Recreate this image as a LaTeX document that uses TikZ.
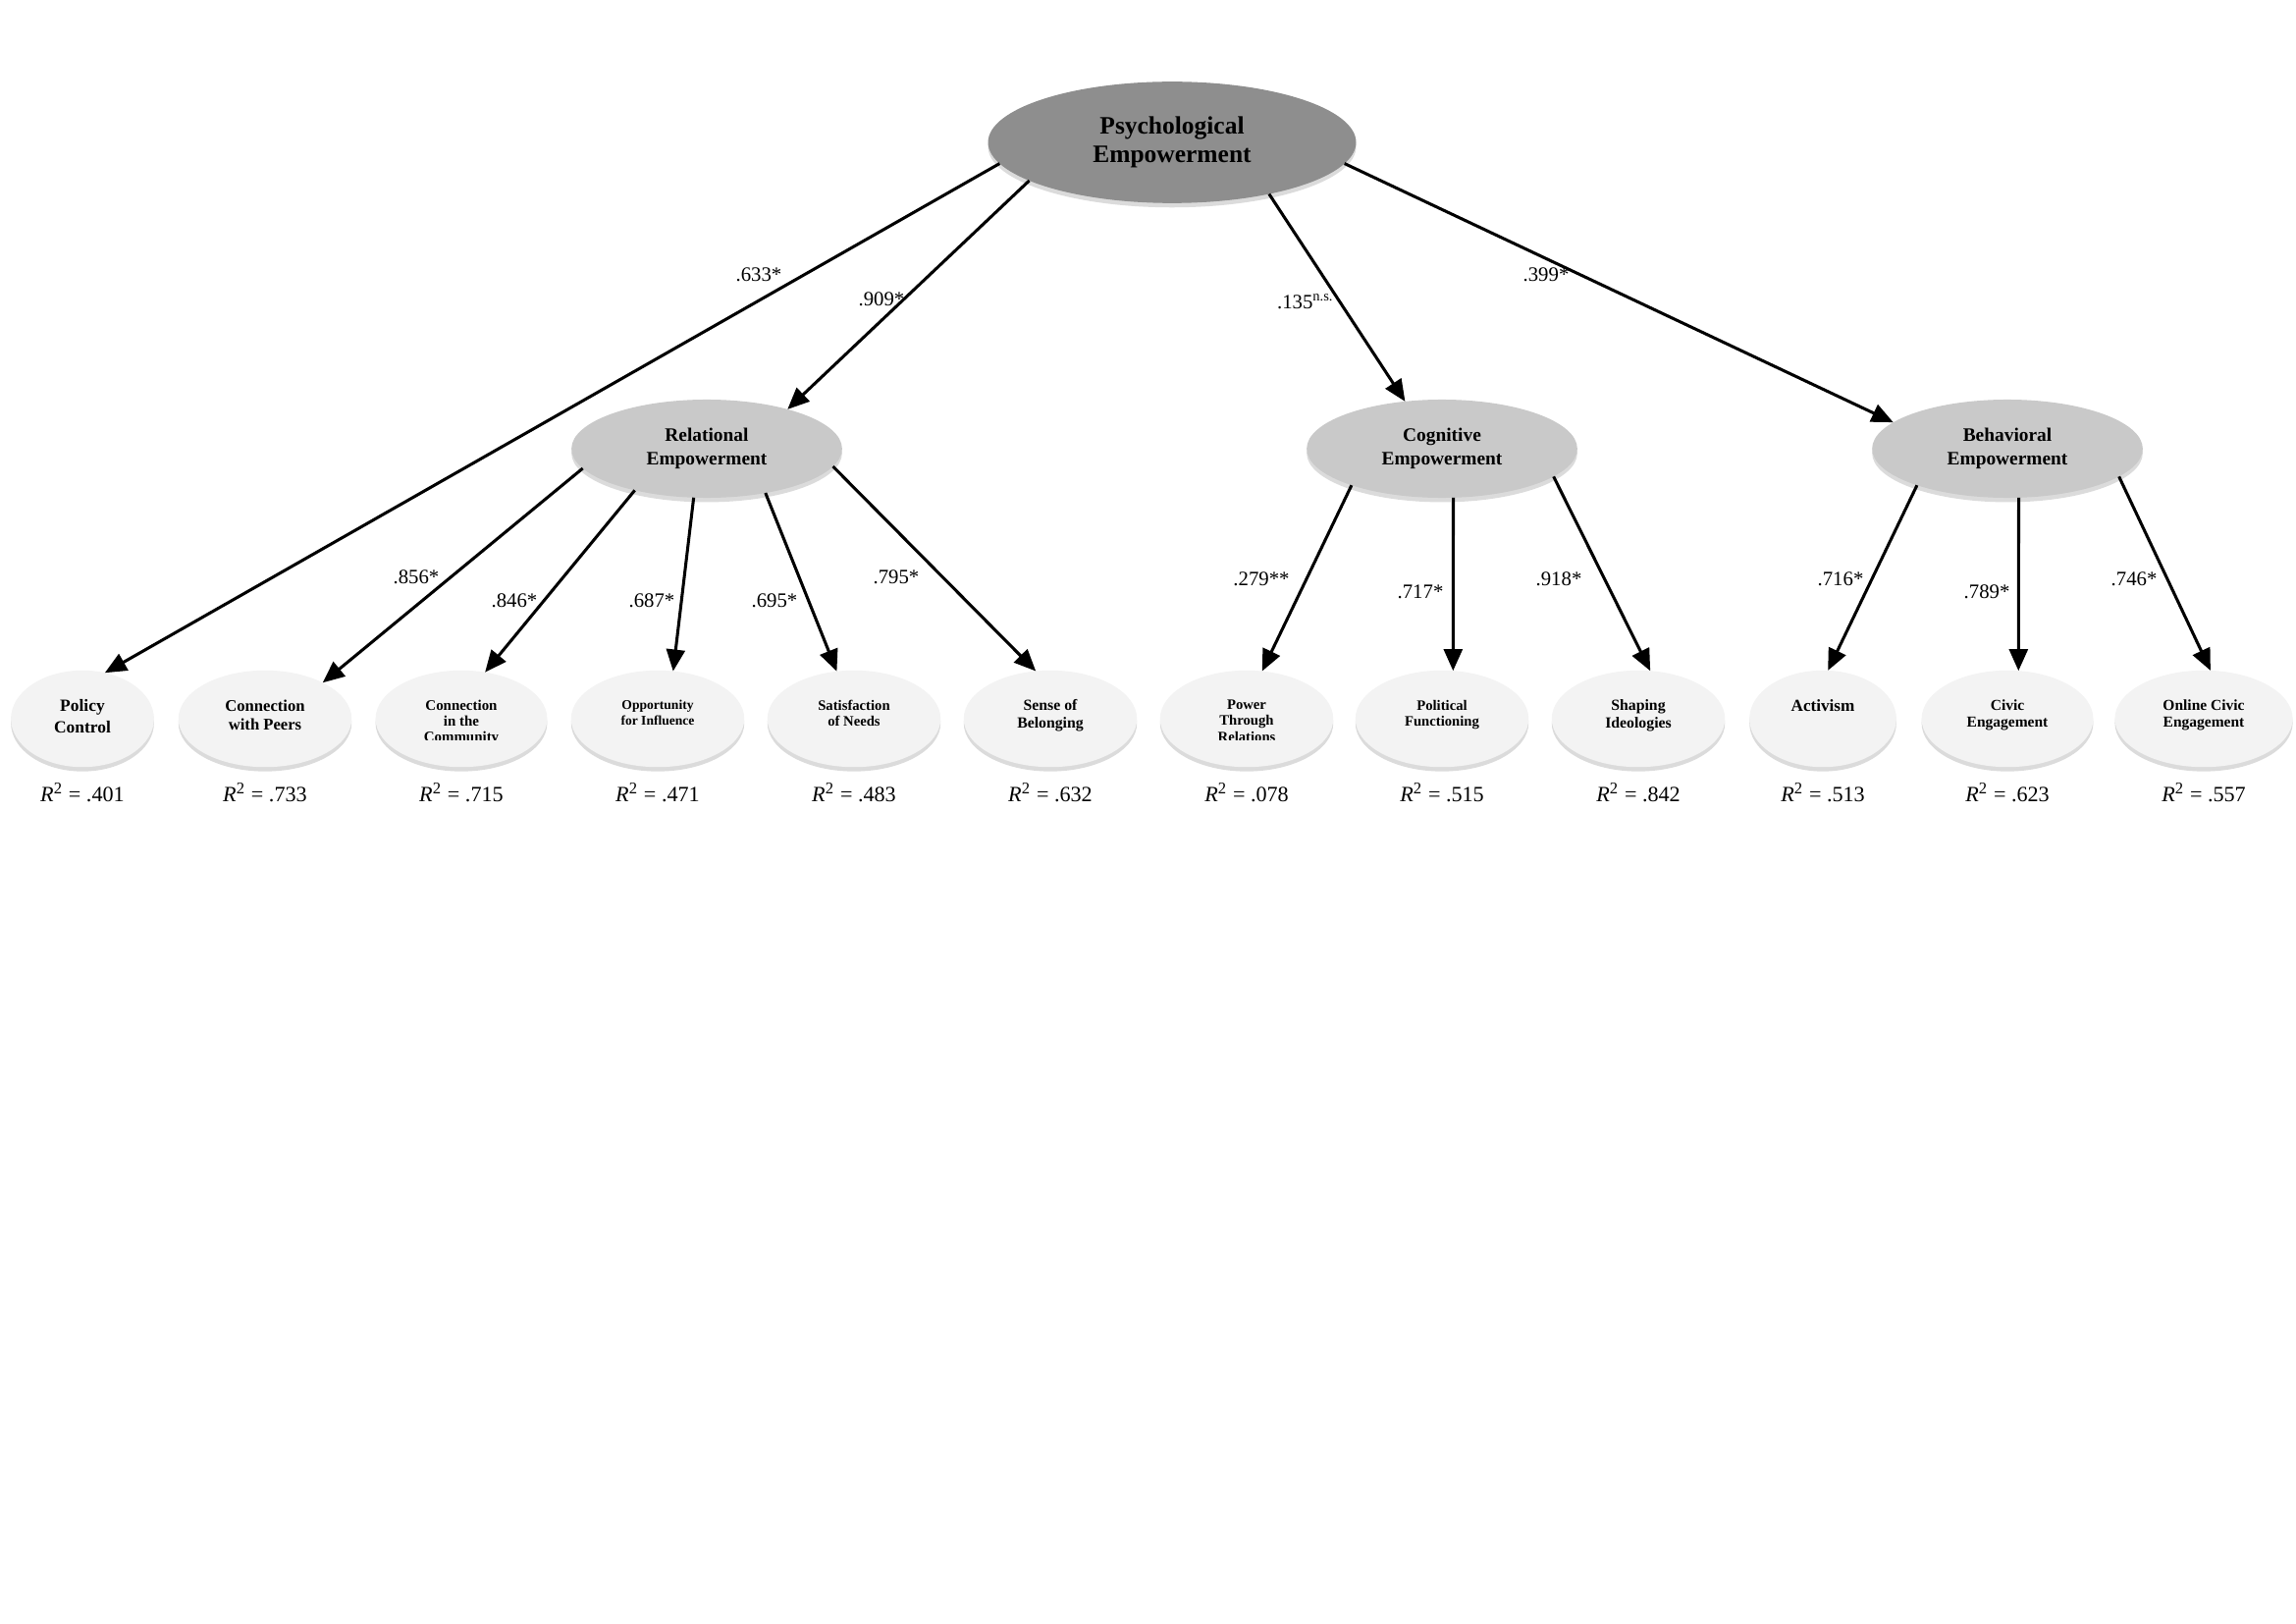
\documentclass[tikz,border=0pt]{standalone}
\usepackage{fontspec}
\setmainfont{Liberation Serif}
\usetikzlibrary{arrows.meta,shapes.geometric,shadows,positioning}

\definecolor{pegray}{RGB}{142,142,142}
\definecolor{facetgray}{RGB}{201,201,201}
\definecolor{indicgray}{RGB}{243,243,243}

\begin{document}
\begin{tikzpicture}[x=0.0127cm, y=-0.0127cm,
  softshadow/.style={drop shadow={shadow xshift=0pt, shadow yshift=-1.6pt, opacity=0.14, fill=black}},
  higher/.style={ellipse, fill=pegray, softshadow, minimum width=4.76cm, minimum height=1.57cm,
    inner sep=0pt, outer sep=0pt, align=center, font=\bfseries\fontsize{9.2}{10.2}\selectfont},
  facet/.style={ellipse, fill=facetgray, softshadow, minimum width=3.5cm, minimum height=1.27cm,
    inner sep=0pt, outer sep=0pt, align=center, font=\bfseries\fontsize{7}{8.6}\selectfont},
  indic/.style={ellipse, fill=indicgray, softshadow, minimum height=1.25cm, inner sep=0pt, outer sep=0pt},
  indictext/.style 2 args={anchor=north, yshift=0.25cm, align=center, inner sep=0pt,
    font=\bfseries\fontsize{#1}{#2}\selectfont},
  load/.style={-{Triangle[length=0.28cm, width=0.24cm]}, line width=1.1pt},
  coef/.style={font=\fontsize{7.5}{9}\selectfont, inner sep=0pt},
  rsq/.style={font=\fontsize{8}{9.6}\selectfont, inner sep=0pt}]

  \useasboundingbox (0,0) rectangle (2339,1653);

  % --- second-order factor and dimensions ---
  \node[higher] (pe) at (1194,145) {Psychological\\Empowerment};
  \node[facet] (rel) at (720,457) {Relational\\Empowerment};
  \node[facet] (cog) at (1469,457) {Cognitive\\Empowerment};
  \node[facet] (beh) at (2045,457) {Behavioral\\Empowerment};

  % --- indicators ---
  \foreach \n/\x/\w in {pc/84/1.85, cp/270/2.24, cc/470/2.22, oi/670/2.24, sn/870/2.24, sb/1070/2.24,
                        pr/1270/2.24, pf/1469/2.24, si/1669/2.24, ac/1857/1.9, ce/2045/2.22, oc/2245/2.3}
    \node[indic, minimum width=\w cm] (\n) at (\x,732) {};

  \node[indictext={6.3}{7.6}] (pc-t) at (pc.center) {Policy\\Control};
  \node[indictext={6}{7}] (cp-t) at (cp.center) {Connection\\with Peers};
  \begin{scope}
    \clip (380,690) rectangle (560,753);
    \node[indictext={5.4}{5.9}] (cc-t) at (cc.center) {Connection\\in the\\Community};
  \end{scope}
  \node[indictext={4.9}{5.8}] (oi-t) at (oi.center) {Opportunity\\for Influence};
  \node[indictext={5.3}{5.9}] (sn-t) at (sn.center) {Satisfaction\\of Needs};
  \node[indictext={5.7}{6.5}] (sb-t) at (sb.center) {Sense of\\Belonging};
  \begin{scope}
    \clip (1180,690) rectangle (1360,753);
    \node[indictext={5.3}{5.9}] (pr-t) at (pr.center) {Power\\Through\\Relations};
  \end{scope}
  \node[indictext={5.3}{5.9}] (pf-t) at (pf.center) {Political\\Functioning};
  \node[indictext={5.7}{6.5}] (si-t) at (si.center) {Shaping\\Ideologies};
  \node[indictext={6.2}{7}] (ac-t) at (ac.center) {Activism};
  \node[indictext={5.6}{6.2}] (ce-t) at (ce.center) {Civic\\Engagement};
  \node[indictext={5.6}{6.2}] (oc-t) at (oc.center) {Online Civic\\Engagement};

  % --- loadings ---
  \draw[load] (pe.187) -- (pc.64);
  \draw[load] (pe.195) -- (rel.26);
  \draw[load] (pe.332) -- (cog.128);
  \draw[load] (pe.353) -- (beh.167);

  \draw[load] (rel.189) -- (cp.32);
  \draw[load] (rel.210) -- (cc.63);
  \draw[load] (rel.255) -- (oi.72);
  \draw[load] (rel.323) -- (sn.110);
  \draw[load] (rel.352) -- (sb.107);

  \draw[load] (cog.202) -- (pr.72);
  \draw[load] (cog.283) -- (pf.77);
  \draw[load] (cog.346) -- (si.76);

  \draw[load] (beh.202) -- (ac.84);
  \draw[load] (beh.283) -- (ce.77);
  \draw[load] (beh.346) -- (oc.82);

  % --- coefficients ---
  \node[coef] (c-pc) at (773,280) {.633*};
  \node[coef] (c-rel) at (898,305) {.909*};
  \node[coef] (c-cog) at (1330,307) {.135\textsuperscript{n.s.}};
  \node[coef] (c-beh) at (1575,280) {.399*};
  \node[coef] (c-cp) at (424,588) {.856*};
  \node[coef] (c-cc) at (524,612) {.846*};
  \node[coef] (c-oi) at (664,612) {.687*};
  \node[coef] (c-sn) at (789,612) {.695*};
  \node[coef] (c-sb) at (913,588) {.795*};
  \node[coef] (c-pr) at (1285,590) {.279**};
  \node[coef] (c-pf) at (1447,603) {.717*};
  \node[coef] (c-si) at (1588,590) {.918*};
  \node[coef] (c-ac) at (1875,590) {.716*};
  \node[coef] (c-ce) at (2024,603) {.789*};
  \node[coef] (c-oc) at (2174,590) {.746*};

  % --- explained variance ---
  \foreach \n/\v in {pc/.401, cp/.733, cc/.715, oi/.471, sn/.483, sb/.632,
                     pr/.078, pf/.515, si/.842, ac/.513, ce/.623, oc/.557}
    \node[rsq, below=0.2cm of \n] (\n-r2) {\textit{R}\textsuperscript{2} = \v};
\end{tikzpicture}
\end{document}
